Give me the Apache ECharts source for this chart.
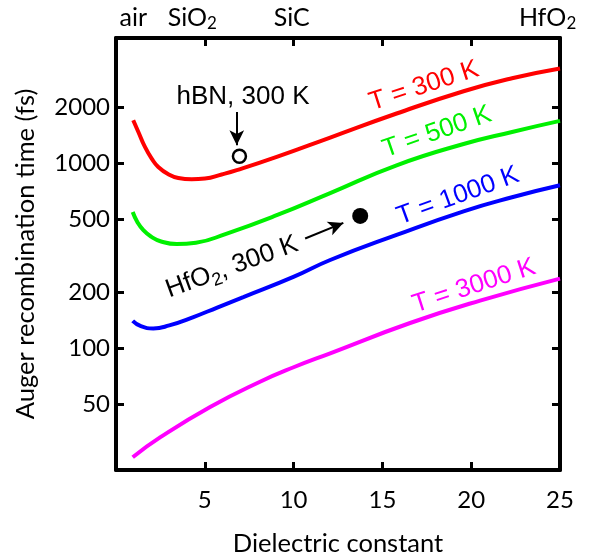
<!DOCTYPE html>
<html><head><meta charset="utf-8">
<script src="https://cdn.jsdelivr.net/npm/echarts@6/dist/echarts.min.js"></script>
<style>html,body{margin:0;padding:0;background:#fff}#c{width:600px;height:558px}</style>
</head><body><div id="c"></div>
<script>
// ---- data ----
const epsT300 = [0.97,1.26,1.63,2.01,2.38,2.95,3.51,4.26,5.01,5.95,6.8,9.05,12.06,15.8,19.57,22.3,25];
const tauT300 = [1706,1476,1225,1060,955,872,833,820,826,869,917,1082,1377,1857,2450,2880,3252];
const epsT500 = [0.94,1.2,1.54,2.0,2.5,3.42,4.5,6.24,9.05,12.06,15.8,19.57,22.3,25];
const tauT500 = [545,482,435,400,379,366,372,417,524,690,975,1270,1476,1693];
const epsT1000 = [0.94,1.4,2.1,3.0,4.36,5.7,7.17,9.99,12.06,15.8,19.57,22.3,25];
const tauT1000 = [140.6,131.6,128,133,147.5,166,189,243,300,410,550,655,760];
const epsT3000 = [0.94,2.48,5.3,8.11,10.0,12.06,16.56,20.5,25];
const tauT3000 = [25.8,33,48.2,66,79,94,137,181,238];
const hbnPoint = [6.95, 1091];
const hfo2Point = [13.75, 519];
const yTicks = [50,100,200,500,1000,2000];
const xTicks = [5,10,15,20,25];
const topTicks = [5,10,15,20];
const materialNames = ['air','SiO{s|2}','SiC','HfO{s|2}'];
const materialEps = [0.97,4.3,9.9,24.3];
const seriesNames = ['T = 300 K','T = 500 K','T = 1000 K','T = 3000 K'];
const seriesColors = ['#ff0000','#00f000','#0000ff','#ff00ff'];

const zip = (a,b) => a.map((v,i)=>[v,b[i]]);
const axisFont = 'Lato';
const annFont = 'Liberation Sans';
const chart = echarts.init(document.getElementById('c'), null, {renderer:'canvas'});

const lineSeries = [[epsT300,tauT300],[epsT500,tauT500],[epsT1000,tauT1000],[epsT3000,tauT3000]].map((p,i)=>({
  type:'line', name:seriesNames[i], data:zip(p[0],p[1]), smooth:0.5, showSymbol:false,
  lineStyle:{color:seriesColors[i], width:4}, xAxisIndex:0, yAxisIndex:0, z:3
}));

const baseLine = {lineStyle:{color:'#000', width:4}};
chart.setOption({
  animation:false,
  grid:{left:116, right:40, top:38, bottom:88, containLabel:false, outerBoundsMode:'none'},
  xAxis:[
    {type:'value', position:'bottom', min:0, max:25, interval:5,
     axisLine:{show:true, onZero:false, ...baseLine},
     axisTick:{show:true, inside:true, length:8, lineStyle:{color:'#000', width:3}, customValues:xTicks},
     axisLabel:{show:true, customValues:xTicks, fontFamily:axisFont, fontSize:24, color:'#000', margin:18},
     splitLine:{show:false},
     name:'Dielectric constant', nameLocation:'middle', nameGap:61,
     nameTextStyle:{fontFamily:axisFont, fontSize:25.5, color:'#000'}},
    {type:'value', position:'top', min:0, max:25, interval:5,
     axisLine:{show:true, onZero:false, ...baseLine},
     axisTick:{show:true, inside:true, length:8, lineStyle:{color:'#000', width:3}, customValues:topTicks},
     axisLabel:{show:false}, splitLine:{show:false}}
  ],
  yAxis:[
    {type:'log', logBase:10, position:'left', min:22, max:4750,
     axisLine:{show:true, onZero:false, ...baseLine},
     axisTick:{show:true, inside:true, length:8, lineStyle:{color:'#000', width:3}, customValues:yTicks},
     axisLabel:{show:true, customValues:yTicks, formatter:v=>String(Math.round(v)), fontFamily:axisFont, fontSize:24, color:'#000', margin:6},
     splitLine:{show:false}, minorTick:{show:false},
     name:'Auger recombination time (fs)', nameLocation:'middle', nameGap:77,
     nameTextStyle:{fontFamily:axisFont, fontSize:25.5, color:'#000'}},
    {type:'log', logBase:10, position:'right', min:22, max:4750,
     axisLine:{show:true, onZero:false, ...baseLine},
     axisTick:{show:true, inside:true, length:8, lineStyle:{color:'#000', width:3}, customValues:yTicks},
     axisLabel:{show:false}, splitLine:{show:false}}
  ],
  series:[
    ...lineSeries,
    {type:'scatter', data:[hbnPoint], symbol:'circle', symbolSize:13,
     itemStyle:{color:'#fff', borderColor:'#000', borderWidth:2.5, opacity:1}, z:5},
    {type:'scatter', data:[hfo2Point], symbol:'circle', symbolSize:16,
     itemStyle:{color:'#000', opacity:1}, z:5},
    {type:'line', data:[], silent:true,
     markLine:{silent:true, symbol:['none','arrow'], symbolSize:[11,15], label:{show:false},
       lineStyle:{color:'#000', width:2, type:'solid'},
       data:[
         [{coord:[6.8,1893]},{coord:[6.8,1251]}],
         [{coord:[10.65,392]},{coord:[12.8,476]}]
       ]}}
  ]
});

// ---- text annotations ----
const deg = Math.PI/180;
const graphics = [];
materialNames.forEach((n,i)=>{
  const p = chart.convertToPixel({xAxisIndex:0}, materialEps[i]);
  graphics.push({type:'text', x:p, y:18, style:{text:n, fontFamily:axisFont, fontSize:25, fill:'#000',
    align:'center', verticalAlign:'middle', rich:{s:{fontFamily:axisFont, fontSize:17, verticalAlign:'bottom', padding:[12,0,0,0]}}}});
});
const anns = [
  {t:'T = 300 K', c:seriesColors[0], x:424, y:86, r:18},
  {t:'T = 500 K', c:seriesColors[1], x:437, y:132, r:19},
  {t:'T = 1000 K', c:seriesColors[2], x:458, y:196, r:20},
  {t:'T = 3000 K', c:seriesColors[3], x:474, y:286, r:18},
  {t:'hBN, 300 K', c:'#000', x:243, y:97, r:0},
  {t:'HfO{s|2}, 300 K', c:'#000', x:232, y:267, r:20}
];
anns.forEach(a=>{
  graphics.push({type:'text', x:a.x, y:a.y, rotation:a.r*deg, z:10,
    style:{text:a.t, fontFamily:annFont, fontSize:26, fill:a.c, align:'center', verticalAlign:'middle',
      rich:{s:{fontFamily:annFont, fontSize:18, fill:a.c, padding:[14,0,0,0]}}}});
});
chart.setOption({graphic:graphics});
</script>
</body></html>
